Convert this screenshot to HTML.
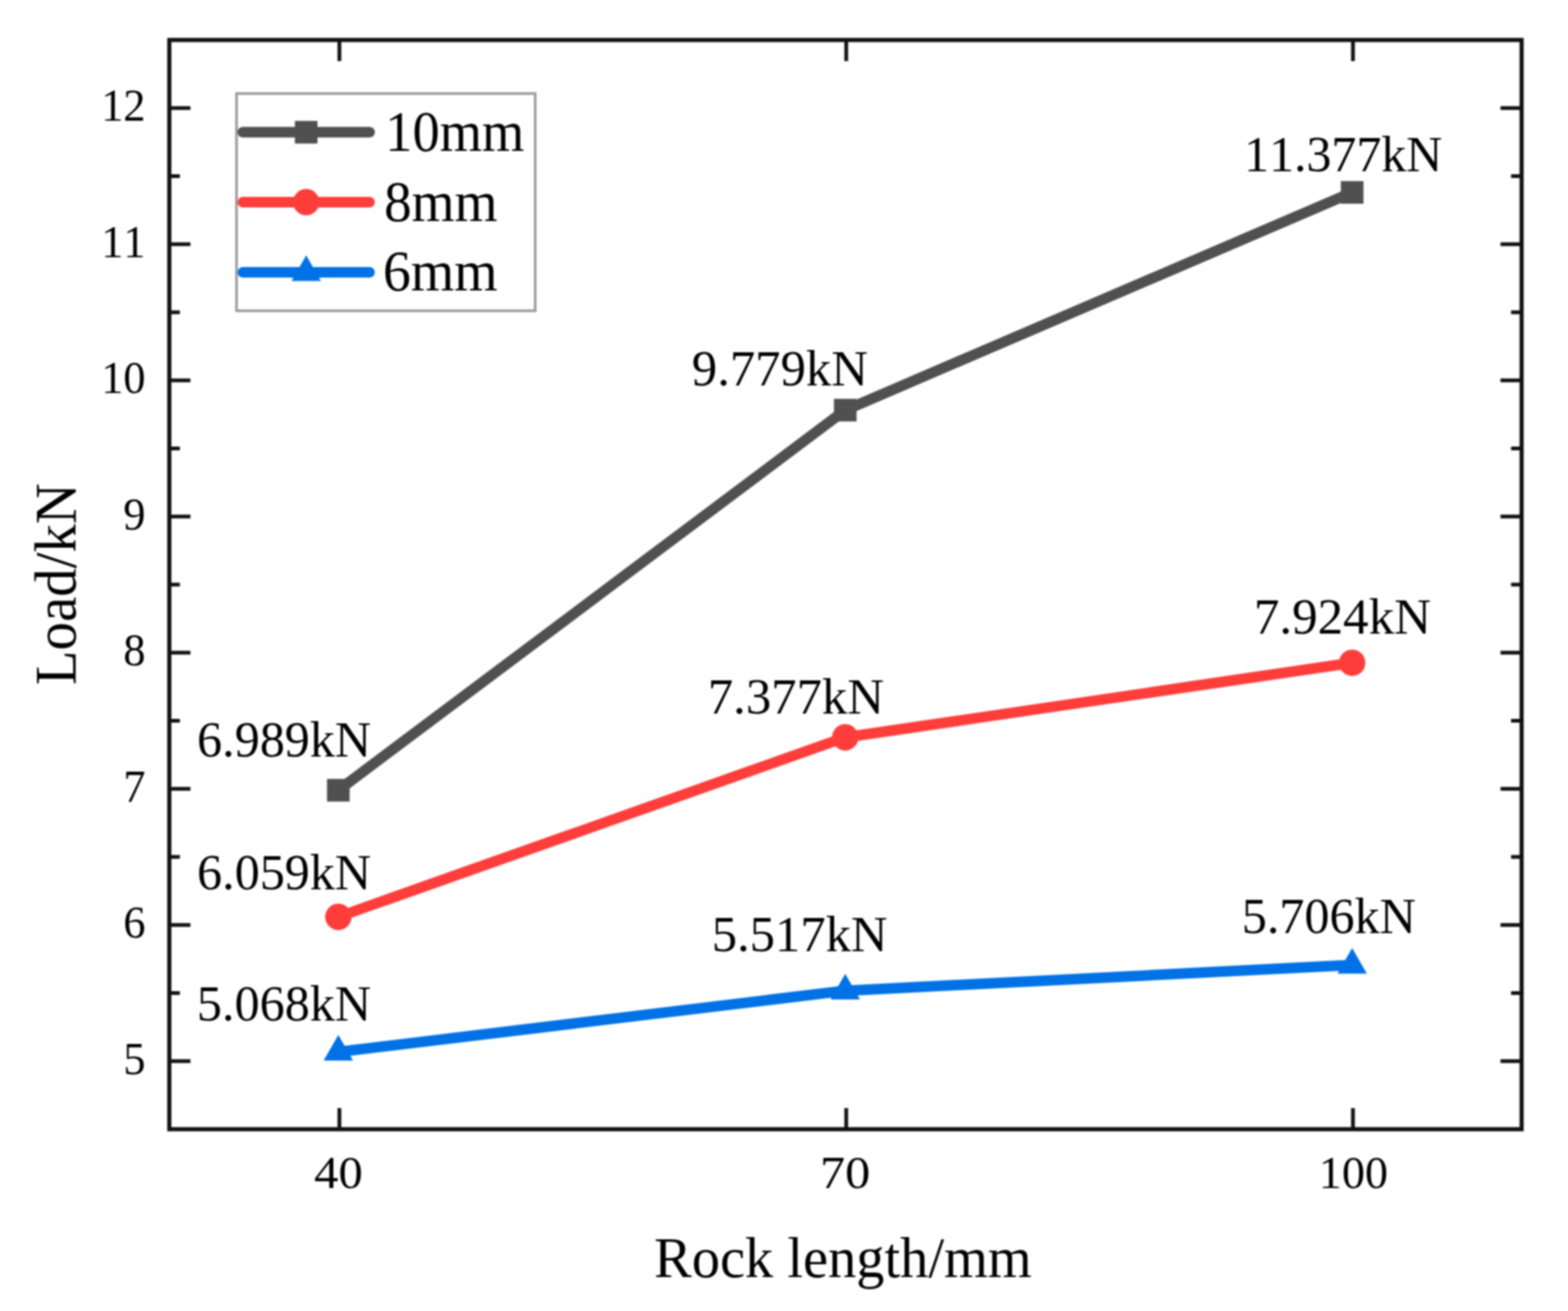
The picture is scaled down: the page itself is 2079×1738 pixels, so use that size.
<!DOCTYPE html>
<html><head><meta charset="utf-8"><title>Load vs Rock length</title>
<style>html,body{margin:0;padding:0;background:#fff;}svg{display:block;filter:blur(1px);}</style>
</head><body>
<svg width="2079" height="1738" viewBox="0 0 2079 1738">
<rect width="2079" height="1738" fill="#fff"/>
<path d="M224.5,1406.7h28M2017.5,1406.7h-28M224.5,1316.5h14M2017.5,1316.5h-14M224.5,1226.2h28M2017.5,1226.2h-28M224.5,1136.0h14M2017.5,1136.0h-14M224.5,1045.7h28M2017.5,1045.7h-28M224.5,955.5h14M2017.5,955.5h-14M224.5,865.2h28M2017.5,865.2h-28M224.5,775.0h14M2017.5,775.0h-14M224.5,684.7h28M2017.5,684.7h-28M224.5,594.5h14M2017.5,594.5h-14M224.5,504.2h28M2017.5,504.2h-28M224.5,414.0h14M2017.5,414.0h-14M224.5,323.8h28M2017.5,323.8h-28M224.5,233.5h14M2017.5,233.5h-14M224.5,143.3h28M2017.5,143.3h-28M450.0,1497.0v-28M450.0,53.0v28M1122.0,1497.0v-28M1122.0,53.0v28M1793.9,1497.0v-28M1793.9,53.0v28" stroke="#111" stroke-width="5" fill="none"/>
<rect x="224.5" y="53.0" width="1793.0" height="1444.0" fill="none" stroke="#111" stroke-width="5.5"/>
<path d="M448.6,1047.6L1120.7,543.7L1792.8,255.1" stroke="#505050" stroke-width="14" fill="none" stroke-linejoin="round" stroke-linecap="round"/>
<rect x="433.6" y="1032.6" width="30" height="30" fill="#505050"/>
<rect x="1105.7" y="528.7" width="30" height="30" fill="#505050"/>
<rect x="1777.8" y="240.1" width="30" height="30" fill="#505050"/>
<path d="M448.6,1215.5L1120.7,977.5L1792.8,878.7" stroke="#FF3D3B" stroke-width="14" fill="none" stroke-linejoin="round" stroke-linecap="round"/>
<circle cx="448.6" cy="1215.5" r="17.5" fill="#FF3D3B"/>
<circle cx="1120.7" cy="977.5" r="17.5" fill="#FF3D3B"/>
<circle cx="1792.8" cy="878.7" r="17.5" fill="#FF3D3B"/>
<path d="M448.6,1394.5L1120.7,1313.4L1792.8,1279.3" stroke="#0072E6" stroke-width="14" fill="none" stroke-linejoin="round" stroke-linecap="round"/>
<path d="M448.6,1372.0L468.1,1406.0L429.1,1406.0Z" fill="#0072E6"/>
<path d="M1120.7,1290.9L1140.2,1324.9L1101.2,1324.9Z" fill="#0072E6"/>
<path d="M1792.8,1256.8L1812.3,1290.8L1773.3,1290.8Z" fill="#0072E6"/>
<rect x="313.6" y="124" width="396" height="288" fill="#fff" stroke="#9a9a9a" stroke-width="3.5"/>
<path d="M322,175.3H490" stroke="#505050" stroke-width="14" stroke-linecap="round"/>
<rect x="391.0" y="160.3" width="30" height="30" fill="#505050"/>
<path d="M322,268H490" stroke="#FF3D3B" stroke-width="14" stroke-linecap="round"/>
<circle cx="406.0" cy="268.0" r="17.5" fill="#FF3D3B"/>
<path d="M322,361H490" stroke="#0072E6" stroke-width="14" stroke-linecap="round"/>
<path d="M406.0,338.5L425.5,372.5L386.5,372.5Z" fill="#0072E6"/>
<g font-family="'Liberation Serif', 'Times New Roman', serif" fill="#000" stroke="#000" stroke-width="0" style="font-kerning:none">
<text transform="translate(163.57,1423.70) scale(0.9650,1)" font-size="61">5</text>
<text transform="translate(163.57,1243.21) scale(0.9650,1)" font-size="61">6</text>
<text transform="translate(163.57,1062.72) scale(0.9650,1)" font-size="61">7</text>
<text transform="translate(163.57,882.23) scale(0.9650,1)" font-size="61">8</text>
<text transform="translate(163.57,701.74) scale(0.9650,1)" font-size="61">9</text>
<text transform="translate(134.14,521.25) scale(0.9650,1)" font-size="61">10</text>
<text transform="translate(134.13,340.76) scale(0.9650,1)" font-size="61">11</text>
<text transform="translate(134.13,160.27) scale(0.9650,1)" font-size="61">12</text>
<text transform="translate(416.44,1574.50) scale(1.0577,1)" font-size="61">40</text>
<text transform="translate(1087.20,1574.50) scale(1.0941,1)" font-size="61">70</text>
<text transform="translate(1748.51,1574.50) scale(1.0046,1)" font-size="61">100</text>
<text transform="translate(1649.58,227.00) scale(0.9731,1)" font-size="68">11.377kN</text>
<text transform="translate(917.33,511.30) scale(0.9886,1)" font-size="68">9.779kN</text>
<text transform="translate(261.35,1003.30) scale(0.9770,1)" font-size="68">6.989kN</text>
<text transform="translate(1662.44,839.90) scale(0.9954,1)" font-size="68">7.924kN</text>
<text transform="translate(938.47,946.00) scale(0.9893,1)" font-size="68">7.377kN</text>
<text transform="translate(261.35,1178.70) scale(0.9770,1)" font-size="68">6.059kN</text>
<text transform="translate(1646.43,1237.30) scale(0.9783,1)" font-size="68">5.706kN</text>
<text transform="translate(943.70,1261.30) scale(0.9870,1)" font-size="68">5.517kN</text>
<text transform="translate(261.03,1353.30) scale(0.9783,1)" font-size="68">5.068kN</text>
<text transform="translate(510.86,199.90) scale(0.9487,1)" font-size="76">10mm</text>
<text transform="translate(509.21,292.80) scale(0.9635,1)" font-size="76">8mm</text>
<text transform="translate(507.82,384.70) scale(0.9725,1)" font-size="76">6mm</text>
<text transform="translate(867.35,1693.10) scale(0.9715,1)" font-size="77">Rock length/mm</text>
<text transform="translate(100.40,908.17) rotate(-90) scale(0.9651,1)" font-size="78">Load/kN</text>
</g>
</svg>
</body></html>
